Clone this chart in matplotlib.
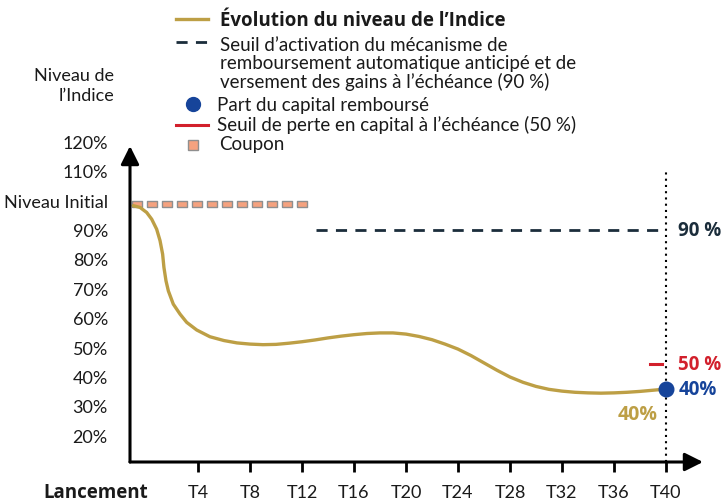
import matplotlib
matplotlib.use("Agg")
import matplotlib.pyplot as plt
from matplotlib.lines import Line2D

plt.rcParams['font.family'] = ['Lato', 'DejaVu Sans']
GRAS = ['Open Sans', 'DejaVu Sans']

# donnees (x en periodes T, y en % du niveau initial)
courbe_x = [-0.98, -0.46, 0.05, 0.44, 0.82, 1.08, 1.28, 1.38, 1.54, 1.72, 2.1, 2.62, 3.13,
            3.9, 4.92, 6, 7, 8, 9, 10, 11, 12, 13, 14, 15, 16, 17, 18, 19, 20, 21, 22, 23,
            24, 25, 26, 27, 28, 29, 30, 31, 32, 33, 34, 35, 36, 37, 38, 39, 40]
courbe_y = [98.1, 97.5, 95.8, 93.5, 90.1, 86.2, 81.6, 77.1, 72.5, 69.1, 64.6, 61.2, 58.4,
            55.8, 53.5, 52.2, 51.4, 51.0, 50.8, 50.9, 51.3, 51.8, 52.4, 53.1, 53.7, 54.2,
            54.6, 54.8, 54.8, 54.4, 53.6, 52.5, 51.0, 49.3, 47.1, 44.6, 42.1, 39.8, 38.0,
            36.6, 35.6, 35.0, 34.6, 34.4, 34.3, 34.4, 34.6, 34.9, 35.3, 35.7]
coupon_x = [-0.69, 0.46, 1.62, 2.77, 3.92, 5.08, 6.23, 7.38, 8.54, 9.69, 10.85, 12.0]
coupon_niveau = 98.6
seuil_rappel = 89.8
seuil_rappel_debut = 13.1
seuil_perte = 44.3
echeance = 40
niveau_final = 35.7

x_ticks = [4, 8, 12, 16, 20, 24, 28, 32, 36, 40]
x_labels = ['T4', 'T8', 'T12', 'T16', 'T20', 'T24', 'T28', 'T32', 'T36', 'T40']
y_ticks = [20, 30, 40, 50, 60, 70, 80, 90, 100, 110, 120]
y_labels = ['20%', '30%', '40%', '50%', '60%', '70%', '80%', '90%', 'Niveau Initial', '110%', '120%']

OR = '#bd9f45'
NAVY = '#1b2d3b'
BLEU = '#16449a'
ROUGE = '#d2202c'
SAUMON = '#f5a27f'
TXT = '#1a1a1a'
FS = 13.5

W, H = 725, 502
def fx(p): return p / W
def fy(p): return 1 - p / H

rect = [(-1, -0.65), (1, -0.65), (1, 0.65), (-1, 0.65), (-1, -0.65)]

fig = plt.figure(figsize=(W / 100, H / 100), dpi=100)
ax = fig.add_axes([fx(130), fy(463), fx(703) - fx(130), fy(142.3) - fy(463)])
ax.set_xticks(x_ticks)
ax.set_xticklabels(x_labels, fontsize=13, color=TXT)
ax.set_yticks(y_ticks)
ax.set_yticklabels(y_labels, fontsize=13, color=TXT)
ax.set_xlim(-1.23, 42.85)
ax.set_ylim(10.88, 120)
ax.tick_params(axis='x', direction='out', length=7, width=2, pad=9)
ax.tick_params(axis='y', length=0, pad=16)
for s in ax.spines.values():
    s.set_visible(False)

# axes avec fleches
fleche = dict(arrowstyle='-|>,head_length=1.1,head_width=0.55', lw=2.2, color='k',
              shrinkA=0, shrinkB=0)
ax.annotate('', xy=(1, 0), xytext=(0, 0), xycoords='axes fraction', arrowprops=fleche)
ax.annotate('', xy=(0, 118.4), xytext=(0, 10.88), xycoords=('axes fraction', 'data'),
            arrowprops=fleche)

# lignes
ax.plot([echeance, echeance], [10.88, 110.5], ls=(0, (1, 2)), color='k', lw=1.5)
ax.plot([seuil_rappel_debut, echeance], [seuil_rappel, seuil_rappel], ls=(0, (4, 3)),
        color=NAVY, lw=2)
ax.plot(coupon_x, [coupon_niveau] * len(coupon_x), ls='none', marker=rect, ms=7,
        mfc=SAUMON, mec='#8f8f8f', mew=1)
ax.plot(courbe_x, courbe_y, color=OR, lw=2.4, solid_capstyle='round', solid_joinstyle='round')
ax.plot([38.8, 39.7], [seuil_perte, seuil_perte], color=ROUGE, lw=2.2)
ax.plot([echeance], [niveau_final], 'o', ms=10.5, color=BLEU, clip_on=False, zorder=5)

# annotations
ax.text(40.95, seuil_rappel, '90 %', color=NAVY, fontsize=FS, fontweight='bold',
        family=GRAS, va='center', ha='left', clip_on=False)
ax.text(40.95, seuil_perte, '50 %', color=ROUGE, fontsize=FS, fontweight='bold',
        family=GRAS, va='center', ha='left', clip_on=False)
ax.text(40.95, niveau_final, '40%', color=BLEU, fontsize=FS, fontweight='bold',
        family=GRAS, va='center', ha='left', clip_on=False)
ax.text(39.35, niveau_final - 8.5, '40%', color=OR, fontsize=14, fontweight='bold',
        family=GRAS, va='center', ha='right')

fig.text(fx(95.5), fy(493), 'Lancement', fontsize=FS, fontweight='bold', family=GRAS,
         ha='center', va='center', color=TXT)
fig.text(fx(114), fy(86), "Niveau de\nl\u2019Indice", fontsize=13, ha='right', va='center',
         linespacing=1.3, color=TXT)

# legende manuelle
lx0, lx1, lt = fx(176), fx(208), fx(220)
fig.add_artist(Line2D([lx0, lx1], [fy(20), fy(20)], color=OR, lw=2.4))
fig.text(lt, fy(21), "\u00c9volution du niveau de l\u2019Indice", fontsize=FS, fontweight='bold',
         family=GRAS, va='center', color=TXT)
fig.add_artist(Line2D([lx0, lx1], [fy(43), fy(43)], color=NAVY, lw=2, ls=(0, (4, 3))))
fig.text(lt, fy(64), "Seuil d\u2019activation du m\u00e9canisme de\n"
         "remboursement automatique anticip\u00e9 et de\n"
         "versement des gains \u00e0 l\u2019\u00e9ch\u00e9ance (90 %)", fontsize=FS,
         va='center', linespacing=1.1, color=TXT)
fig.add_artist(Line2D([fx(193)], [fy(105)], ls='none', marker='o', ms=10, color=BLEU))
fig.text(fx(217), fy(105), "Part du capital rembours\u00e9", fontsize=FS, va='center', color=TXT)
fig.add_artist(Line2D([lx0, lx1], [fy(126), fy(126)], color=ROUGE, lw=2.2))
fig.text(fx(217), fy(125), "Seuil de perte en capital \u00e0 l\u2019\u00e9ch\u00e9ance (50 %)",
         fontsize=FS, va='center', color=TXT)
fig.add_artist(Line2D([fx(193)], [fy(146)], ls='none', marker='s', ms=7.5, mfc=SAUMON,
                      mec='#8f8f8f', mew=1))
fig.text(fx(219), fy(145), "Coupon", fontsize=FS, va='center', color=TXT)

fig.savefig('out.png', dpi=100)
